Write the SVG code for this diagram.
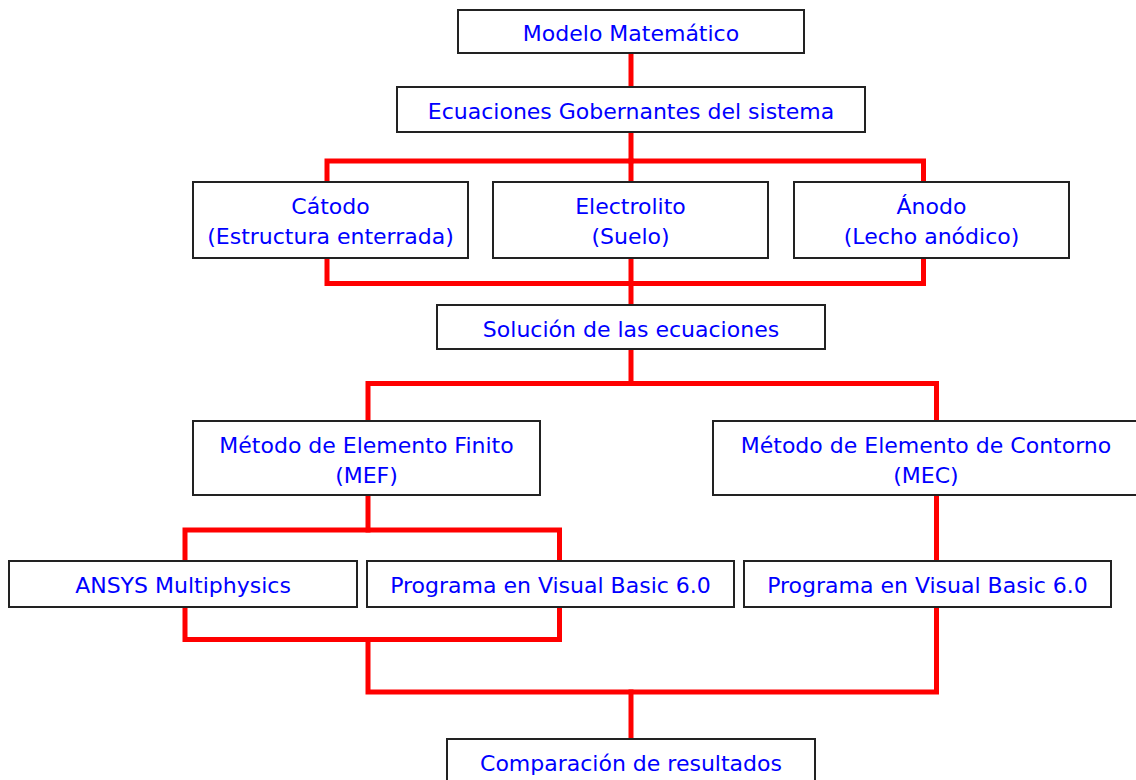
<svg xmlns="http://www.w3.org/2000/svg" width="1136" height="780" viewBox="0 0 1136 780">
  <style>
    .box rect { fill: #ffffff; stroke: #222222; stroke-width: 2; }
    .box text { font-family: "DejaVu Sans", "Liberation Sans", sans-serif; font-size: 22px; fill: #0000ff; text-anchor: middle; }
    #connectors path { fill: none; stroke: #ff0000; stroke-width: 5; stroke-linejoin: miter; stroke-linecap: square; }
  </style>
  <rect x="0" y="0" width="1136" height="780" fill="#ffffff"/>

  <!-- red tree connectors -->
  <g id="connectors">
    <path d="M631,55 V86"/>
    <path d="M631,134 V161"/>
    <path d="M327,181 V161 H923.5 V181"/>
    <path d="M631,161 V181"/>
    <path d="M327,260 V283.5 H923.5 V260"/>
    <path d="M631,260 V304"/>
    <path d="M631,351 V383.5"/>
    <path d="M368,420 V383.5 H936.5 V420"/>
    <path d="M368,497 V530"/>
    <path d="M185,560 V530 H559.5 V560"/>
    <path d="M185,609 V639.5 H559.5 V609"/>
    <path d="M368,639.5 V692 H936.5 V609"/>
    <path d="M936.5,497 V560"/>
    <path d="M631,692 V738"/>
  </g>

  <g id="modelo" class="box">
    <rect x="458" y="10" width="346" height="43"/>
    <text x="631" y="41">Modelo Matemático</text>
  </g>
  <g id="ecuaciones" class="box">
    <rect x="397" y="87" width="468" height="45"/>
    <text x="631" y="119">Ecuaciones Gobernantes del sistema</text>
  </g>
  <g id="catodo" class="box">
    <rect x="193" y="182" width="275" height="76"/>
    <text x="330.5" y="214">Cátodo</text>
    <text x="330.5" y="244">(Estructura enterrada)</text>
  </g>
  <g id="electrolito" class="box">
    <rect x="493" y="182" width="275" height="76"/>
    <text x="630.5" y="214">Electrolito</text>
    <text x="630.5" y="244">(Suelo)</text>
  </g>
  <g id="anodo" class="box">
    <rect x="794" y="182" width="275" height="76"/>
    <text x="931.5" y="214">Ánodo</text>
    <text x="931.5" y="244">(Lecho anódico)</text>
  </g>
  <g id="solucion" class="box">
    <rect x="437" y="305" width="388" height="44"/>
    <text x="631" y="337">Solución de las ecuaciones</text>
  </g>
  <g id="mef" class="box">
    <rect x="193" y="421" width="347" height="74"/>
    <text x="366.5" y="453">Método de Elemento Finito</text>
    <text x="366.5" y="483">(MEF)</text>
  </g>
  <g id="mec" class="box">
    <rect x="713" y="421" width="426" height="74"/>
    <text x="926" y="453">Método de Elemento de Contorno</text>
    <text x="926" y="483">(MEC)</text>
  </g>
  <g id="ansys" class="box">
    <rect x="9" y="561" width="348" height="46"/>
    <text x="183" y="593">ANSYS Multiphysics</text>
  </g>
  <g id="vb-mef" class="box">
    <rect x="367" y="561" width="367" height="46"/>
    <text x="550.5" y="593">Programa en Visual Basic 6.0</text>
  </g>
  <g id="vb-mec" class="box">
    <rect x="744" y="561" width="367" height="46"/>
    <text x="927.5" y="593">Programa en Visual Basic 6.0</text>
  </g>
  <g id="comparacion" class="box">
    <rect x="447" y="739" width="368" height="48"/>
    <text x="631" y="771">Comparación de resultados</text>
  </g>
</svg>
